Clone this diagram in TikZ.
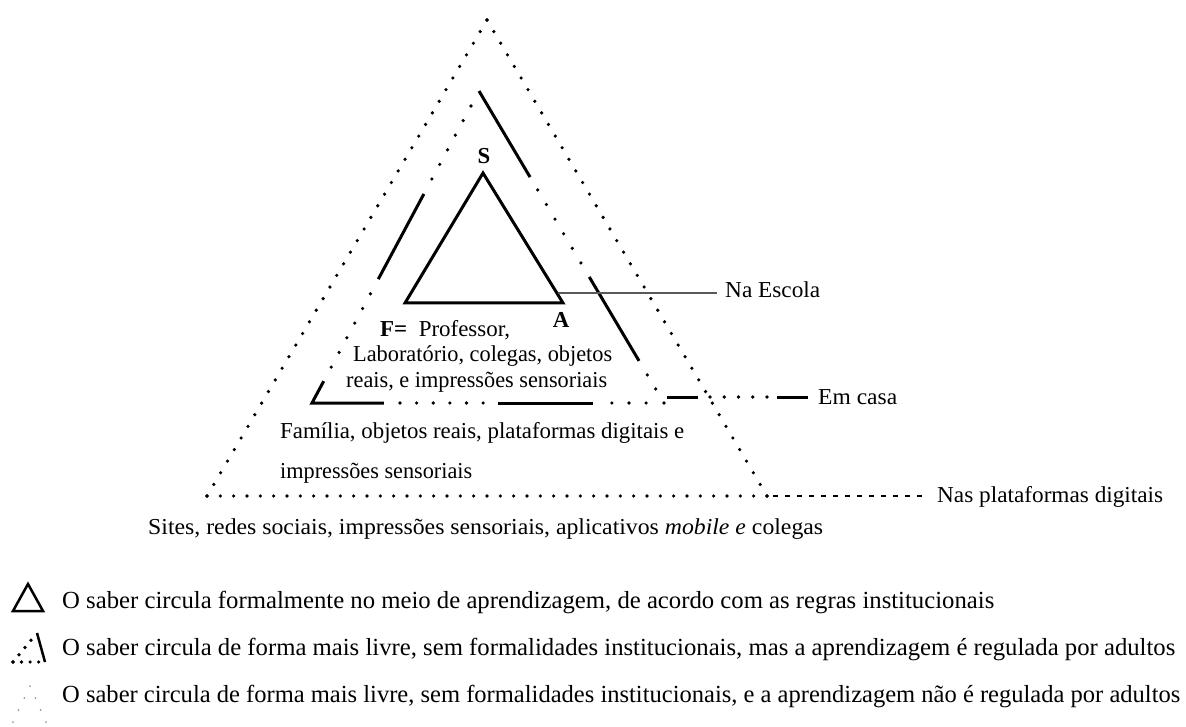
\documentclass[tikz,border=0pt]{standalone}
\usepackage{fontspec}
\usepackage{graphicx}
\setmainfont{Liberation Serif}
\usetikzlibrary{calc}
\newcommand\mydots[6]{%
  \foreach \k in {0,...,#6}{%
    \fill[#1] ($(#2)!{#4+(#5-#4)*\k/#6}!(#3)$) circle[radius=1.8];}}
\newcommand\myseg[4]{\draw[segline] ($(#1)!#3!(#2)$) -- ($(#1)!#4!(#2)$);}
\newcommand\fitw[2]{\resizebox{#1pt}{\height}{#2}}
\begin{document}
\begin{tikzpicture}[x=1pt,y=-1pt,
  segline/.style={line width=3pt},
  dotc/.style={black},
  txt/.style={font=\fontsize{22.8}{26}\selectfont, inner sep=0pt, anchor=base west},
  leg/.style={font=\fontsize{24.6}{28}\selectfont, inner sep=0pt, anchor=base west},
  lbl/.style={font=\fontsize{22.8}{26}\selectfont\bfseries, inner sep=0pt, anchor=base}]
\useasboundingbox[fill=white] (0,0) rectangle (1186,727);
% outer triangle
\coordinate (O) at (487,20);
\coordinate (OL) at (207,496);
\coordinate (OR) at (767,496);
\mydots{dotc}{OL}{O}{0}{1}{41}
\mydots{dotc}{O}{OR}{0}{1}{41}
\mydots{dotc}{OL}{OR}{0}{1}{42}
% middle triangle
\coordinate (M) at (479,91);
\coordinate (ML) at (312,403);
\coordinate (MR) at (664,403);
\draw[segline,line join=miter] ($(ML)!0.07!(M)$) -- (ML) -- ($(ML)!0.2045!(MR)$);
\mydots{dotc}{ML}{M}{0.115}{0.35}{5}
\myseg{ML}{M}{0.397}{0.67}
\mydots{dotc}{ML}{M}{0.718}{0.952}{5}
\myseg{M}{MR}{0}{0.276}
\mydots{dotc}{M}{MR}{0.317}{0.551}{5}
\myseg{M}{MR}{0.596}{0.865}
\mydots{dotc}{M}{MR}{0.91}{1}{2}
\mydots{dotc}{ML}{MR}{0.25}{0.486}{5}
\myseg{ML}{MR}{0.528}{0.798}
\mydots{dotc}{ML}{MR}{0.852}{0.949}{2}
% inner triangle
\coordinate (S) at (483,173);
\coordinate (IL) at (405,303);
\coordinate (IR) at (563,303);
\draw[line width=3pt,line join=miter] (S) -- (IL) -- (IR) -- cycle;
\node[lbl] (sl) at (484,164) {S};
\node[lbl] (al) at (561,327) {A};
% labels with leader lines
\node[txt] (esc) at (725,298) {\fitw{95}{Na Escola}};
\coordinate (esc0) at (558,293);
\coordinate (esc1) at (717,293);
\draw[line width=1.2pt,black!65] (esc0) -- (esc1);
\node[txt] (casa) at (818,404) {\fitw{79}{Em casa}};
\coordinate (c0) at (667,397);
\coordinate (c1) at (698,397);
\coordinate (c2) at (710,397);
\coordinate (c3) at (767,397);
\coordinate (c4) at (777,397);
\coordinate (c5) at (808,397);
\draw[segline] (c0) -- (c1);
\mydots{dotc}{c2}{c3}{0}{1}{4}
\draw[segline] (c4) -- (c5);
\node[txt] (plat) at (937,502) {\fitw{226}{Nas plataformas digitais}};
\coordinate (p0) at (773,496);
\coordinate (p1) at (924,496);
\draw[line width=1.3pt,dash pattern=on 5pt off 7pt] (p0) -- (p1);
% texts
\node[txt] (f1) at (380,336) {\fitw{130}{\textbf{F=} \ Professor,}};
\node[txt] (f2) at (353,362) {\fitw{259}{Laboratório, colegas, objetos}};
\node[txt] (f3) at (346,387) {\fitw{261}{reais, e impressões sensoriais}};
\node[txt] (h1) at (280,438) {\fitw{404}{Família, objetos reais, plataformas digitais e}};
\node[txt] (h2) at (280,478) {\fitw{192}{impressões sensoriais}};
\node[txt] (s1) at (148,534) {\fitw{675}{Sites, redes sociais, impressões sensoriais, aplicativos \textit{mobile e} colegas}};
% legend
\coordinate (g1a) at (28,584);
\coordinate (g1b) at (13,611);
\coordinate (g1c) at (43,611);
\draw[line width=2.5pt,line join=miter] (g1a) -- (g1b) -- (g1c) -- cycle;
\node[leg] (l1) at (62,608) {\fitw{932}{O saber circula formalmente no meio de aprendizagem, de acordo com as regras institucionais}};
\coordinate (g2a) at (37,633);
\coordinate (g2b) at (13,662);
\coordinate (g2c) at (45,662);
\draw[line width=2.5pt] (g2a) -- (g2c);
\mydots{dotc}{g2b}{g2a}{0}{0.75}{3}
\mydots{dotc}{g2b}{g2c}{0}{0.8}{3}
\node[leg] (l2) at (62,655) {\fitw{1113}{O saber circula de forma mais livre, sem formalidades institucionais, mas a aprendizagem é regulada por adultos}};
\coordinate (g3a) at (30,686);
\coordinate (g3b) at (13,722);
\coordinate (g3c) at (46,722);
\foreach \k in {0,...,3}{\fill[black!40] ($(g3a)!{\k/3}!(g3b)$) circle[radius=1];}
\foreach \k in {1,...,3}{\fill[black!40] ($(g3a)!{\k/3}!(g3c)$) circle[radius=1];}
\node[leg] (l3) at (62,702) {\fitw{1118}{O saber circula de forma mais livre, sem formalidades institucionais, e a aprendizagem não é regulada por adultos}};
\end{tikzpicture}
\end{document}
